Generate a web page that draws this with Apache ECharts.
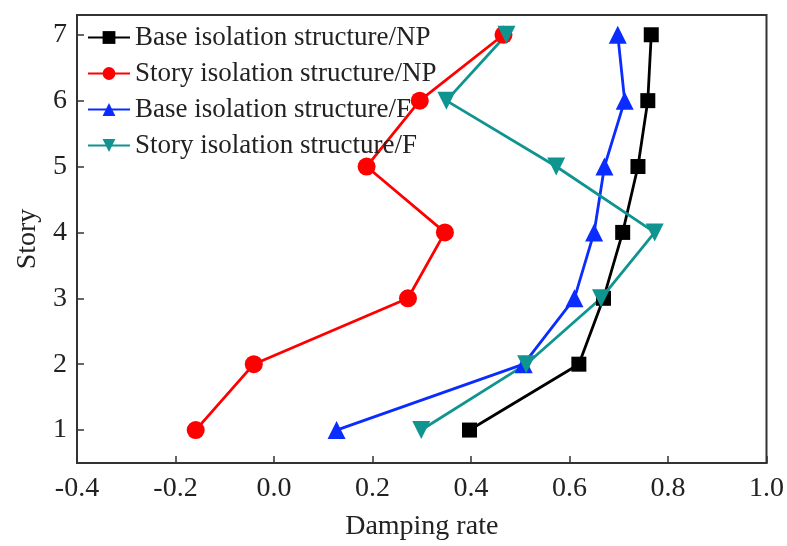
<!DOCTYPE html>
<html>
<head>
<meta charset="utf-8">
<script src="https://cdn.jsdelivr.net/npm/echarts@6/dist/echarts.min.js"></script>
<style>
  html, body { margin: 0; padding: 0; background: #fff; }
  #chart { width: 787px; height: 546px; }
</style>
</head>
<body>
<div id="chart"></div>
<script>
// stories (y) and damping rate values (x)
const stories = [1, 2, 3, 4, 5, 6, 7]
const baseNP = [0.397, 0.619, 0.669, 0.708, 0.739, 0.759, 0.766]
const storyNP = [-0.159, -0.041, 0.272, 0.347, 0.188, 0.296, 0.466]
const baseF = [0.127, 0.507, 0.610, 0.650, 0.671, 0.712, 0.698]
const storyF = [0.299, 0.512, 0.664, 0.773, 0.573, 0.350, 0.472]
const seriesNames = [
    "Base isolation structure/NP",
    "Story isolation structure/NP",
    "Base isolation structure/F",
    "Story isolation structure/F"
]

const font = "'Liberation Serif', 'Times New Roman', serif"
const axisColor = "#333"

const pairs = (vals) => vals.map((v, i) => [v, stories[i]])

const mk = (name, vals, color, symbol, size) => ({
    name: name,
    type: "line",
    data: pairs(vals),
    symbol: symbol,
    symbolSize: size,
    lineStyle: { color: color, width: 2.8 },
    itemStyle: { color: color },
    z: 3
})

const chart = echarts.init(document.getElementById("chart"))
chart.setOption({
    animation: false,
    textStyle: { fontFamily: font },
    grid: {
        left: 77,
        right: 20,
        top: 15,
        bottom: 83,
        show: true,
        borderColor: axisColor,
        borderWidth: 2
    },
    legend: {
        left: 82,
        top: 19,
        orient: "vertical",
        itemWidth: 42,
        itemHeight: 16,
        itemGap: 9,
        textStyle: { fontFamily: font, fontSize: 27, color: "#222" },
        data: seriesNames
    },
    xAxis: {
        type: "value",
        min: -0.4,
        max: 1.0,
        interval: 0.2,
        name: "Damping rate",
        nameLocation: "middle",
        nameGap: 50,
        nameTextStyle: { fontFamily: font, fontSize: 28, color: "#222" },
        axisLine: { show: true, onZero: false, lineStyle: { color: axisColor, width: 2 } },
        axisTick: { show: true, inside: true, length: 7, lineStyle: { color: axisColor, width: 1.5 } },
        axisLabel: {
            fontFamily: font, fontSize: 28, color: "#222", margin: 12,
            formatter: (v) => v.toFixed(1)
        },
        splitLine: { show: false }
    },
    yAxis: {
        type: "value",
        min: 0.5,
        max: 7.3,
        name: "Story",
        nameLocation: "middle",
        nameGap: 34,
        nameTextStyle: { fontFamily: font, fontSize: 28, color: "#222" },
        axisLine: { show: true, onZero: false, lineStyle: { color: axisColor, width: 2 } },
        axisTick: {
            show: true, inside: true, length: 7,
            customValues: stories,
            lineStyle: { color: axisColor, width: 1.5 }
        },
        axisLabel: {
            fontFamily: font, fontSize: 28, color: "#222", margin: 10,
            customValues: stories
        },
        splitLine: { show: false }
    },
    series: [
        mk(seriesNames[0], baseNP, "#000000", "rect", 15),
        mk(seriesNames[1], storyNP, "#ff0000", "circle", 18),
        mk(seriesNames[2], baseF, "#0a2cff", "triangle", 18),
        mk(seriesNames[3], storyF, "#0f9490", "path://M0,0 L10,0 L5,9 Z", 18)
    ]
})
</script>
</body>
</html>
